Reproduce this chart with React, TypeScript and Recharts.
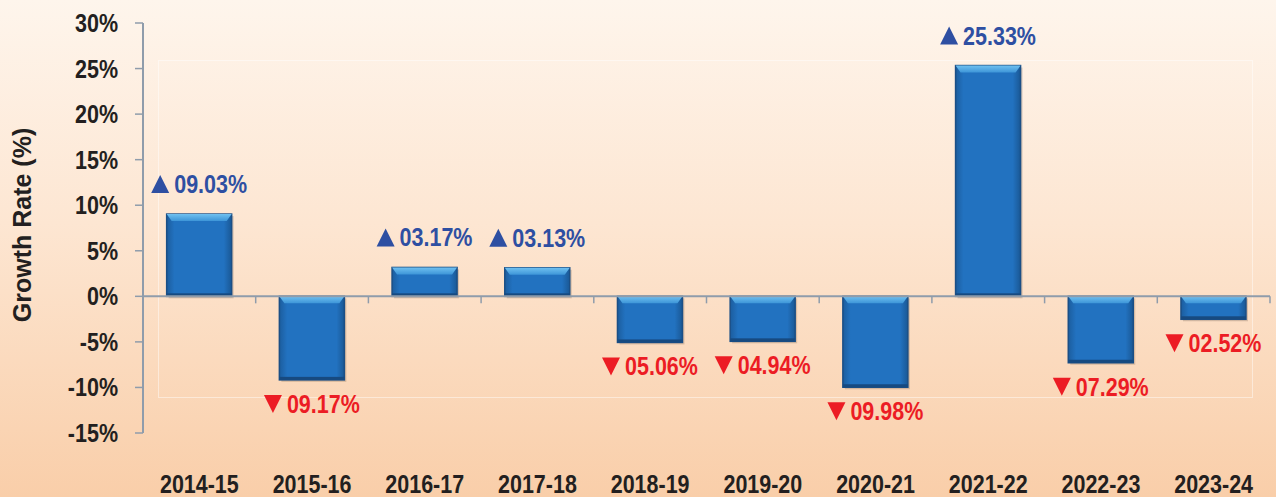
import React from "react";
import {
  Bar,
  BarChart,
  LabelList,
  ReferenceLine,
  XAxis,
  YAxis,
} from "recharts";

const years = [
  "2014-15",
  "2015-16",
  "2016-17",
  "2017-18",
  "2018-19",
  "2019-20",
  "2020-21",
  "2021-22",
  "2022-23",
  "2023-24",
];
const growth = [9.03, -9.17, 3.17, 3.13, -5.06, -4.94, -9.98, 25.33, -7.29, -2.52];
const yTicks = [-15, -10, -5, 0, 5, 10, 15, 20, 25, 30];

const data = years.map((year, i) => ({ year, growth: growth[i] }));

const FONT = "'Liberation Sans', Arial, sans-serif";
const AXIS = "#8f9cab";
const UP = "#2e4fa2";
const DOWN = "#ec1c24";
const SQUEEZE = 0.86; // no narrow font installed, so squeeze the bold one

// bold condensed text, anchored at (x, y)
const Narrow = ({ x, y, anchor, fill, children }: any) => (
  <g transform={`translate(${x},${y}) scale(${SQUEEZE},1)`}>
    <text x={0} y={0} textAnchor={anchor} fill={fill} fontFamily={FONT} fontWeight="bold" fontSize={25}>
      {children}
    </text>
  </g>
);

const BevelBar = (props: any) => {
  const { x, y, width, height } = props;
  const top = Math.min(y, y + height);
  const h = Math.abs(height);
  const bevel = Math.min(7, h / 2);
  return (
    <g>
      <rect x={x + 2} y={top + 2} width={width} height={h} fill="rgba(60,40,20,0.18)" />
      <rect x={x} y={top} width={width} height={h} fill="url(#barBody)" stroke="#1b4f86" strokeWidth={1.5} />
      <polygon
        points={`${x},${top} ${x + width},${top} ${x + width - 5},${top + bevel} ${x + 5},${top + bevel}`}
        fill="url(#barTop)"
      />
      <rect x={x} y={top + h - 3} width={width} height={3} fill="#174a80" />
    </g>
  );
};

const ValueLabel = (props: any) => {
  const { x, y, width, height, value } = props;
  const up = value >= 0;
  const top = Math.min(y, y + height);
  const bottom = Math.max(y, y + height);
  const baseline = up ? top - 21 : bottom + 33;
  const text = `${Math.abs(value).toFixed(2).padStart(5, "0")}%`;
  const textW = 25 * 3.391 * SQUEEZE;
  const tri = 18;
  const total = tri + 5 + textW;
  const left = x + width / 2 - total / 2;
  const triTop = baseline - 18;
  const pts = up
    ? `${left},${baseline} ${left + tri},${baseline} ${left + tri / 2},${triTop}`
    : `${left},${triTop} ${left + tri},${triTop} ${left + tri / 2},${baseline}`;
  return (
    <g>
      <polygon points={pts} fill={up ? UP : DOWN} />
      <Narrow x={left + tri + 5} y={baseline} anchor="start" fill={up ? UP : DOWN}>
        {text}
      </Narrow>
    </g>
  );
};

const ZeroLine = (props: any) => {
  const { x1, y1, x2 } = props;
  const step = (x2 - x1) / years.length;
  return (
    <g>
      <line x1={x1} y1={y1} x2={x2} y2={y1} stroke={AXIS} strokeWidth={2} />
      {years.map((_, i) => (
        <line
          key={i}
          x1={x1 + step * (i + 1)}
          y1={y1}
          x2={x1 + step * (i + 1)}
          y2={y1 + 7}
          stroke={AXIS}
          strokeWidth={1.5}
        />
      ))}
    </g>
  );
};

const YearTick = (props: any) => {
  const { x, y, payload } = props;
  return (
    <Narrow x={x} y={y + 18} anchor="middle" fill="#231f20">
      {payload.value}
    </Narrow>
  );
};

const PctTick = (props: any) => {
  const { x, y, payload } = props;
  return (
    <Narrow x={x} y={y + 9} anchor="end" fill="#231f20">
      {`${payload.value}%`}
    </Narrow>
  );
};

const YTitle = (props: any) => {
  const { viewBox } = props;
  const cy = viewBox.y + viewBox.height / 2 - 3;
  return (
    <text
      x={22}
      y={cy}
      transform={`rotate(-90, 22, ${cy})`}
      textAnchor="middle"
      dominantBaseline="central"
      fill="#231f20"
      fontFamily={FONT}
      fontWeight="bold"
      fontSize={25}
    >
      Growth Rate (%)
    </text>
  );
};

export default function App() {
  return (
    <div
      style={{
        position: "absolute",
        left: 0,
        top: 0,
        width: 1276,
        height: 497,
        background: "linear-gradient(180deg, #fef5ec 0%, #fde6d2 45%, #f9cea9 100%)",
      }}
    >
      <style>{`body{margin:0}`}</style>
      <div
        style={{
          position: "absolute",
          left: 158,
          top: 60,
          width: 1095,
          height: 338,
          border: "1px solid rgba(255,255,255,0.45)",
          boxSizing: "border-box",
        }}
      />
      <BarChart
        width={1276}
        height={497}
        data={data}
        margin={{ top: 23, right: 6, bottom: 0, left: 0 }}
        barCategoryGap="21%"
        style={{ position: "absolute", left: 0, top: 0 }}
      >
        <defs>
          <linearGradient id="barBody" x1="0" y1="0" x2="1" y2="0">
            <stop offset="0%" stopColor="#1c5d9e" />
            <stop offset="12%" stopColor="#2272c0" />
            <stop offset="88%" stopColor="#2272c0" />
            <stop offset="100%" stopColor="#1a5895" />
          </linearGradient>
          <linearGradient id="barTop" x1="0" y1="0" x2="0" y2="1">
            <stop offset="0%" stopColor="#6fc0f0" />
            <stop offset="100%" stopColor="#3d95d8" />
          </linearGradient>
        </defs>
        <XAxis
          dataKey="year"
          height={64}
          axisLine={false}
          tickLine={false}
          tickSize={6}
          tickMargin={36}
          interval={0}
          tick={<YearTick />}
        />
        <YAxis
          width={143}
          domain={[-15, 30]}
          ticks={yTicks}
          interval={0}
          tick={<PctTick />}
          tickSize={8}
          tickMargin={17}
          axisLine={{ stroke: AXIS, strokeWidth: 2 }}
          tickLine={{ stroke: AXIS, strokeWidth: 1.5 }}
          label={<YTitle />}
        />
        <ReferenceLine y={0} shape={<ZeroLine />} />
        <Bar dataKey="growth" shape={<BevelBar />} isAnimationActive={false}>
          <LabelList dataKey="growth" content={<ValueLabel />} />
        </Bar>
      </BarChart>
    </div>
  );
}
